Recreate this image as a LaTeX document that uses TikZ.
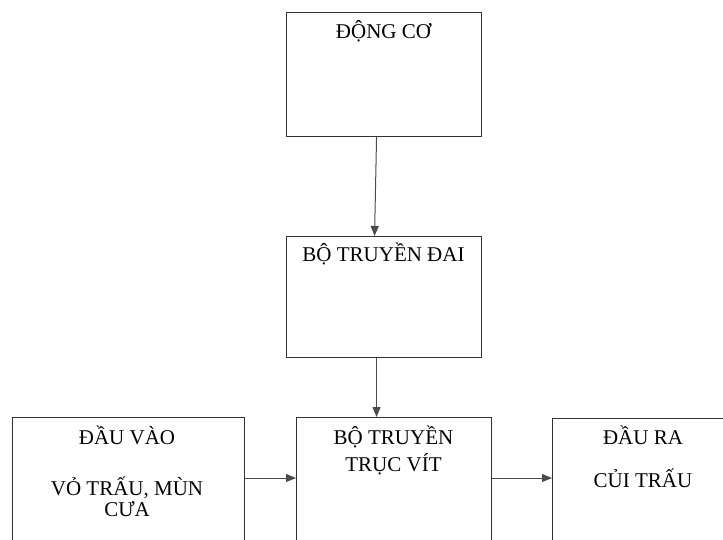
\documentclass[tikz,border=0pt]{standalone}
\usepackage{fontspec}
\setmainfont{Liberation Serif}
\usetikzlibrary{arrows.meta}
\begin{document}
\begin{tikzpicture}[x=1pt,y=-1pt,
  box/.style={draw=black!80,line width=1.1pt,rectangle,inner sep=0pt,anchor=north west},
  txt/.style={anchor=base,inner sep=0pt,font=\fontsize{21}{24}\selectfont},
  arr/.style={draw=black!70,line width=1pt,-{Triangle[length=10pt,width=8pt]}}]
\useasboundingbox (0,0) rectangle (723,540);
\clip (0,0) rectangle (723,540);
\fill[white] (0,0) rectangle (723,540);
% boxes
\node[box,minimum width=195pt,minimum height=124pt] (b1) at (286,12) {};
\node[box,minimum width=195pt,minimum height=121pt] (b2) at (286,236) {};
\node[box,minimum width=232pt,minimum height=150pt] (b3) at (12,417) {};
\node[box,minimum width=195pt,minimum height=150pt] (b4) at (296,417) {};
\node[box,minimum width=182pt,minimum height=150pt] (b5) at (552,418) {};
% texts
\node[txt] (t1) at (383.5,39) {ĐỘNG CƠ};
\node[txt] (t2) at (383.5,261.5) {BỘ TRUYỀN ĐAI};
\node[txt] (t3a) at (127,444) {ĐẦU VÀO};
\node[txt] (t3b) at (127,495.5) {VỎ TRẤU, MÙN};
\node[txt] (t3c) at (127,516.5) {CƯA};
\node[txt] (t4a) at (393.5,444) {BỘ TRUYỀN};
\node[txt] (t4b) at (393.5,471.5) {TRỤC VÍT};
\node[txt] (t5a) at (643,444) {ĐẦU RA};
\node[txt] (t5b) at (643,487) {CỦI TRẤU};
% connectors
\coordinate (ya) at (0,478);
\draw[arr] ([xshift=-7.5pt]b1.south) -- ([xshift=-9.5pt]b2.north);
\draw[arr] ([xshift=-7.5pt]b2.south) -- ([xshift=-17.5pt]b4.north);
\draw[arr] (b3.east |- ya) -- (b4.west |- ya);
\draw[arr] (b4.east |- ya) -- (b5.west |- ya);
\end{tikzpicture}
\end{document}
